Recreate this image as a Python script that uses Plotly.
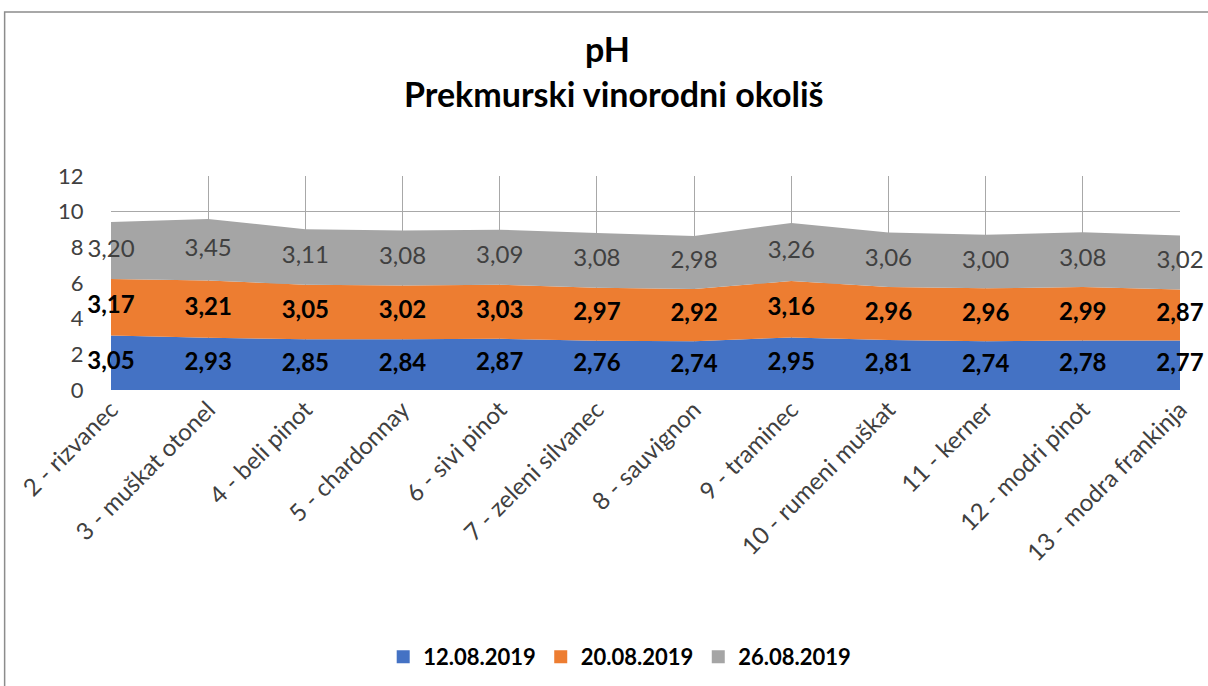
import numpy as np
import plotly.graph_objects as go

categories = ["2 - rizvanec", "3 - muškat otonel", "4 - beli pinot", "5 - chardonnay",
              "6 - sivi pinot", "7 - zeleni silvanec", "8 - sauvignon", "9 - traminec",
              "10 - rumeni muškat", "11 - kerner", "12 - modri pinot", "13 - modra frankinja"]
d1 = [3.05, 2.93, 2.85, 2.84, 2.87, 2.76, 2.74, 2.95, 2.81, 2.74, 2.78, 2.77]
d2 = [3.17, 3.21, 3.05, 3.02, 3.03, 2.97, 2.92, 3.16, 2.96, 2.96, 2.99, 2.87]
d3 = [3.20, 3.45, 3.11, 3.08, 3.09, 3.08, 2.98, 3.26, 3.06, 3.00, 3.08, 3.02]
names = ["12.08.2019", "20.08.2019", "26.08.2019"]
colors = ["#4472C4", "#ED7D31", "#A5A5A5"]

FONT = "Lato"
fig = go.Figure()

series = [d1, d2, d3]
base = np.zeros(len(categories))
for vals, name, col in zip(series, names, colors):
    fig.add_trace(go.Scatter(x=categories, y=vals, stackgroup="one", mode="none",
                             fillcolor=col, name=name, showlegend=False))

# data labels in the middle of each band
for i, (vals, col) in enumerate(zip(series, colors)):
    v = np.array(vals)
    mid = base + v / 2
    base = base + v
    bold = i < 2
    txt = [f"{x:.2f}".replace(".", ",") for x in vals]
    fig.add_trace(go.Scatter(x=categories, y=mid, mode="text", text=txt,
                             textposition="middle center", showlegend=False,
                             cliponaxis=False, hoverinfo="skip",
                             textfont=dict(family=FONT, size=24,
                                           color="#000000" if bold else "#404040",
                                           weight="bold" if bold else "normal")))

# legend entries as squares
for name, col in zip(names, colors):
    fig.add_trace(go.Scatter(x=[None], y=[None], mode="markers", name=name,
                             marker=dict(symbol="square", size=13, color=col)))

fig.update_layout(
    width=1208, height=686,
    margin=dict(l=111, r=28, t=176, b=296, autoexpand=False),
    plot_bgcolor="white", paper_bgcolor="white",
    font=dict(family=FONT, color="#404040"),
    showlegend=True,
    legend=dict(orientation="h", x=0.513, xanchor="center", xref="container",
                y=-1.248, yanchor="middle", traceorder="normal",
                font=dict(family=FONT, size=22, color="#000000", weight="bold"),
                itemwidth=30, tracegroupgap=0),
    xaxis=dict(type="category", range=[0, len(categories) - 1], automargin=False,
               showgrid=True, gridcolor="#A8A8A8", gridwidth=1,
               tickangle=-45, tickfont=dict(family=FONT, size=24, color="#404040"),
               showline=False, zeroline=False, ticks=""),
    yaxis=dict(range=[0, 12], tickvals=[0, 2, 4, 6, 8, 10, 12], automargin=False,
               showgrid=True, gridcolor="#A8A8A8", gridwidth=1,
               tickfont=dict(family=FONT, size=22, color="#404040"),
               ticks="outside", ticklen=22, tickcolor="rgba(0,0,0,0)",
               zeroline=False, showline=False),
)

fig.add_annotation(text="<b>pH</b>", xref="paper", yref="paper", x=0.464, y=1.598,
                   showarrow=False, font=dict(family=FONT, size=34, color="#000000"),
                   yanchor="middle")
fig.add_annotation(text="<b>Prekmurski vinorodni okoliš</b>", xref="paper", yref="paper",
                   x=0.471, y=1.385, showarrow=False,
                   font=dict(family=FONT, size=34, color="#000000"), yanchor="middle")

# chart frame
fig.add_shape(type="rect", xref="paper", yref="paper", x0=-0.0995, y0=-2.0,
              x1=1.2, y1=1.766, line=dict(color="#8C8C8C", width=1.5),
              fillcolor="rgba(0,0,0,0)", layer="below")

fig.write_html("out.html", config={"displayModeBar": False},
               post_script="document.body.style.margin='0';")
